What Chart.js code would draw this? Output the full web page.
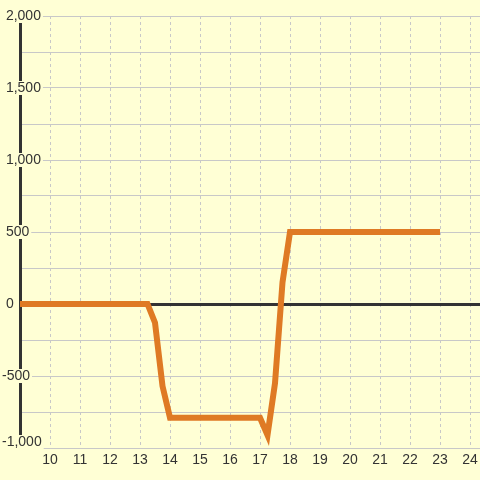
<!DOCTYPE html>
<html>
<head>
<meta charset="utf-8">
<script src="https://cdn.jsdelivr.net/npm/chart.js@4/dist/chart.umd.min.js"></script>
<style>
  html, body { margin: 0; padding: 0; background: #ffffd5; }
  #wrap { width: 480px; height: 480px; }
</style>
</head>
<body>
<div id="wrap"><canvas id="c" width="480" height="480"></canvas></div>
<script>
// Data
const xValues = [8, 13.25, 13.5, 13.75, 14, 17, 17.25, 17.5, 17.75, 18, 23];
const yValues = [0, 0, -130, -570, -790, -790, -910, -550, 150, 500, 500];
const xTickMin = 9, xTickMax = 24.333;
const yTickMin = -1000, yTickMax = 2000;
const yLabelStep = 500, yGridStep = 250;

const BG = '#ffffd5';
const LINE = '#df7a24';
const DARK = '#333333';
const GRID = '#c8c8c8';
const FONT = { family: '"Liberation Sans", Arial, sans-serif', size: 14, lineHeight: 1 };
const BOTTOM_LABEL_LIFT = 6;

const points = xValues.map((x, i) => ({ x: x, y: yValues[i] }));

// lift the lowest y tick label a little, as in the reference
const liftBottomLabel = {
  id: 'liftBottomLabel',
  afterLayout(chart) {
    const s = chart.scales.y;
    const items = s.getLabelItems(chart.chartArea);
    const idx = s.ticks.findIndex(t => t.value === yTickMin);
    if (idx >= 0 && items[idx]) {
      const tr = items[idx].options.translation;
      items[idx].options.translation = [tr[0], tr[1] - BOTTOM_LABEL_LIFT];
    }
  }
};

new Chart(document.getElementById('c'), {
  type: 'line',
  data: {
    datasets: [{
      data: points,
      borderColor: LINE,
      borderWidth: 6,
      pointRadius: 0,
      pointHoverRadius: 0,
      tension: 0,
      fill: false
    }]
  },
  plugins: [liftBottomLabel],
  options: {
    responsive: false,
    animation: false,
    events: [],
    layout: { padding: { left: 2, top: 16, right: 0, bottom: 0 } },
    plugins: { legend: { display: false }, tooltip: { enabled: false } },
    scales: {
      x: {
        type: 'linear',
        min: xTickMin,
        max: xTickMax,
        afterFit: s => { s.height = 32; s.paddingLeft = 0; s.paddingRight = 0; },
        grid: {
          drawTicks: false,
          color: ctx => (ctx.tick && ctx.tick.value === xTickMin) ? 'rgba(0,0,0,0)' : GRID,
          lineWidth: 1
        },
        border: { display: false, dash: [3, 3] },
        ticks: {
          stepSize: 1,
          includeBounds: false,
          autoSkip: false,
          maxRotation: 0,
          padding: 4,
          color: DARK,
          font: Object.assign({}, FONT, { lineHeight: 1.2 }),
          callback: v => (v === xTickMin ? '' : String(v))
        }
      },
      y: {
        type: 'linear',
        min: yTickMin,
        max: yTickMax,
        afterFit: s => { s.width = 18; },
        grid: {
          drawTicks: false,
          color: ctx => (ctx.tick && ctx.tick.value === 0) ? DARK : GRID,
          lineWidth: ctx => (ctx.tick && ctx.tick.value === 0) ? 3 : 1
        },
        border: { display: true, color: DARK, width: 3 },
        ticks: {
          stepSize: yGridStep,
          autoSkip: false,
          mirror: true,
          crossAlign: 'near',
          padding: -18,
          color: DARK,
          font: FONT,
          showLabelBackdrop: true,
          backdropColor: ctx => (ctx.tick && ctx.tick.value % yLabelStep === 0) ? BG : 'rgba(0,0,0,0)',
          backdropPadding: { top: 0, bottom: 0, left: 2, right: 2 },
          callback: v => {
            if (v % yLabelStep !== 0) return '';
            const s = v.toLocaleString('en-US');
            return v >= 0 ? ' ' + s : s;
          }
        }
      }
    }
  }
});
</script>
</body>
</html>
